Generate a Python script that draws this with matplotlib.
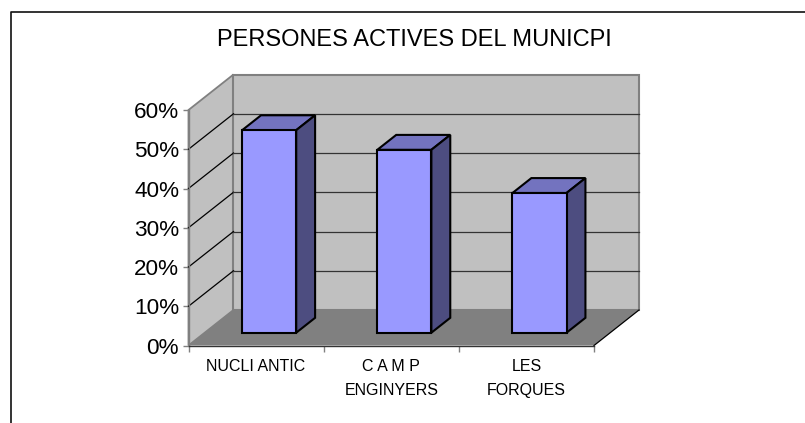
import matplotlib
matplotlib.use("Agg")
import matplotlib.pyplot as plt
from matplotlib.lines import Line2D
from matplotlib.patches import Polygon

plt.rcParams['font.family'] = ['Liberation Sans', 'DejaVu Sans']

categories = ['NUCLI ANTIC', 'C A M P\nENGINYERS', 'LES\nFORQUES']
values = [51.6, 46.6, 35.6]
yticks = [0, 10, 20, 30, 40, 50, 60]
title = 'PERSONES ACTIVES DEL MUNICPI'

# depth of the fake 3d box, in data units
depth_x = 45 / 135.2
depth_y = 35.5 / 3.925
bar_width = 0.4
bar_start = 0.277
bar_depth = 0.36   # front face of the bars sits this far into the box
bar_size = 0.42    # how deep the bars are

fig = plt.figure(figsize=(8.05, 4.23), dpi=100)

# chart frame, only left and top are inside the picture
fig.add_artist(Line2D([10.5 / 805, 10.5 / 805, 1], [0, 1 - 12.5 / 423, 1 - 12.5 / 423],
                      transform=fig.transFigure, color='#111111', lw=1.2))

ax = fig.add_axes([188.5 / 805, (423 - 345.5) / 423, 405.5 / 805, 235.5 / 423])
ax.set_xlim(0, 3)
ax.set_ylim(0, 60)
ax.patch.set_visible(False)


def add_poly(points, **kw):
    ax.add_patch(Polygon(points, closed=True, clip_on=False, **kw))


# walls and floor
add_poly([(0, 0), (depth_x, depth_y), (depth_x, 60 + depth_y), (0, 60)], fc='#c0c0c0', ec='#808080', lw=1.3)
add_poly([(depth_x, depth_y), (3 + depth_x, depth_y), (3 + depth_x, 60 + depth_y), (depth_x, 60 + depth_y)],
         fc='#c0c0c0', ec='#808080', lw=1.5)
add_poly([(0, 0), (3, 0), (3 + depth_x, depth_y), (depth_x, depth_y)], fc='#808080', ec='none')

# gridlines
for t in yticks[1:-1]:
    ax.plot([0, depth_x], [t, t + depth_y], color='black', lw=0.9, clip_on=False)
    ax.plot([depth_x, 3 + depth_x], [t + depth_y, t + depth_y], color='#333333', lw=0.9, clip_on=False)
ax.plot([3, 3 + depth_x], [0, depth_y], color='black', lw=0.9, clip_on=False)

# bars
for i, v in enumerate(values):
    x0 = i + bar_start + bar_depth * depth_x
    x1 = x0 + bar_width
    y0 = bar_depth * depth_y
    y1 = y0 + v
    dx = bar_size * depth_x
    dy = bar_size * depth_y
    style = dict(ec='black', lw=1.5, joinstyle='miter', zorder=3)
    add_poly([(x0, y1), (x1, y1), (x1 + dx, y1 + dy), (x0 + dx, y1 + dy)], fc='#7373bf', **style)
    add_poly([(x1, y0), (x1 + dx, y0 + dy), (x1 + dx, y1 + dy), (x1, y1)], fc='#4d4d80', **style)
    add_poly([(x0, y0), (x1, y0), (x1, y1), (x0, y1)], fc='#9999ff', **style)

ax.spines['top'].set_visible(False)
ax.spines['right'].set_visible(False)
ax.spines['left'].set_color('#808080')
ax.spines['left'].set_linewidth(1)
ax.spines['bottom'].set_color('#333333')
ax.spines['bottom'].set_linewidth(1)

ax.set_yticks(yticks)
ax.set_yticklabels([f'{t}%' for t in yticks], fontsize=16.2)
ax.set_xticks([0, 1, 2, 3])
ax.set_xticklabels([])
ax.set_xticks([0.5, 1.5, 2.5], minor=True)
ax.set_xticklabels(categories, minor=True, fontsize=11.5)
ax.tick_params(axis='both', which='major', color='#808080', length=4.3, width=1, pad=2.5)
ax.tick_params(axis='x', which='minor', length=0, pad=10)
for lab in ax.get_xticklabels(minor=True):
    lab.set_linespacing(1.72)

fig.text(414 / 805, 1 - 40 / 423, title, ha='center', va='center', fontsize=17.05)

fig.savefig('out.png', dpi=100)
